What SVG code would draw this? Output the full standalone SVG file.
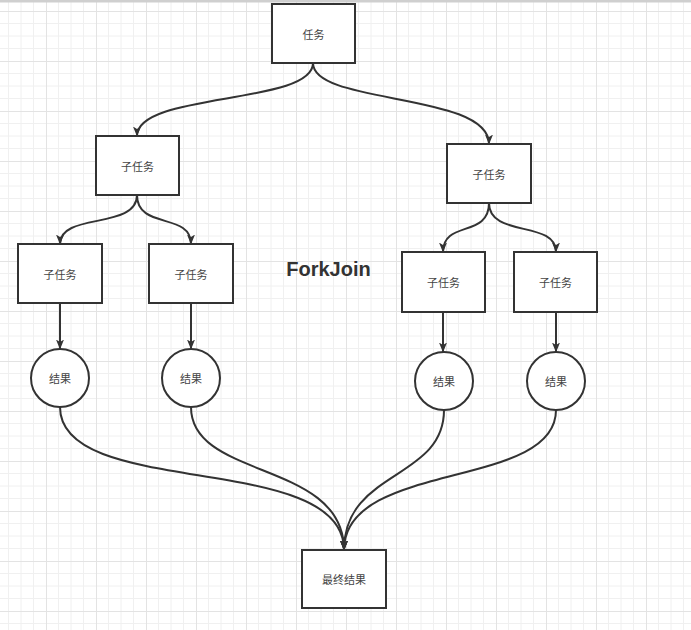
<svg xmlns="http://www.w3.org/2000/svg" width="691" height="630" viewBox="0 0 691 630">
<defs>
<pattern id="grid" patternUnits="userSpaceOnUse" x="46" y="11" width="50" height="50">
<path d="M12.5,0 V50 M25,0 V50 M37.5,0 V50 M0,12.5 H50 M0,25 H50 M0,37.5 H50" stroke="#f0f0f0" stroke-width="1" fill="none"/>
<path d="M0.5,0 V50 M0,0.5 H50" stroke="#e3e3e3" stroke-width="1" fill="none"/>
</pattern>
<marker id="arr" viewBox="0 0 10 8" refX="9.5" refY="4" markerWidth="10" markerHeight="8" markerUnits="userSpaceOnUse" orient="auto">
<path d="M0,0 L10,4 L0,8 L2.5,4 Z" fill="#333"/>
</marker>
<style>
.box{fill:#fff;stroke:#333;stroke-width:2}
.lbl{font-family:"Noto Sans CJK SC","Noto Sans",sans-serif;font-size:11px;fill:#444;text-anchor:middle;dominant-baseline:central}
.edge{fill:none;stroke:#333;stroke-width:2;marker-end:url(#arr)}
</style>
</defs>
<rect width="691" height="630" fill="#fff"/>
<rect width="691" height="630" fill="url(#grid)"/>
<rect x="0" y="0" width="691" height="2.5" fill="#cfcfcf"/>

<g id="connectors">
<path class="edge" d="M313,63 C313,105 137,92 137,136"/>
<path class="edge" d="M313,63 C313,105 489,92 489,144"/>
<path class="edge" d="M137,195 C137,230 60,212 60,244"/>
<path class="edge" d="M137,195 C137,230 191,212 191,244"/>
<path class="edge" d="M489,203 C489,238 443,220 443,252"/>
<path class="edge" d="M489,203 C489,238 556,220 556,252"/>
<path class="edge" d="M60,303 L60,349"/>
<path class="edge" d="M191,303 L191,349"/>
<path class="edge" d="M443,312 L443,352"/>
<path class="edge" d="M556,312 L556,352"/>
<path class="edge" d="M60,407 C60,500 344,450 344,550"/>
<path class="edge" d="M191,407 C191,480 344,460 344,550"/>
<path class="edge" d="M444,410 C444,480 344,470 344,550"/>
<path class="edge" d="M556,410 C556,490 344,460 344,550"/>
</g>

<g id="task"><rect class="box" x="272" y="4" width="83" height="59"/><text class="lbl" x="313.5" y="33.5">任务</text></g>
<g id="sub-left"><rect class="box" x="96" y="136" width="83" height="59"/><text class="lbl" x="137.5" y="165.5">子任务</text></g>
<g id="sub-right"><rect class="box" x="447" y="144" width="84" height="59"/><text class="lbl" x="489" y="173.5">子任务</text></g>
<g id="sub-a"><rect class="box" x="18" y="244" width="84" height="59"/><text class="lbl" x="60" y="273.5">子任务</text></g>
<g id="sub-b"><rect class="box" x="149" y="244" width="84" height="59"/><text class="lbl" x="191" y="273.5">子任务</text></g>
<g id="sub-c"><rect class="box" x="402" y="252" width="83" height="60"/><text class="lbl" x="443.5" y="282">子任务</text></g>
<g id="sub-d"><rect class="box" x="514" y="252" width="83" height="60"/><text class="lbl" x="555.5" y="282">子任务</text></g>
<g id="res-a"><circle class="box" cx="60" cy="378" r="29"/><text class="lbl" x="60" y="378">结果</text></g>
<g id="res-b"><circle class="box" cx="191" cy="378" r="29"/><text class="lbl" x="191" y="378">结果</text></g>
<g id="res-c"><circle class="box" cx="444" cy="381" r="29"/><text class="lbl" x="444" y="381">结果</text></g>
<g id="res-d"><circle class="box" cx="556" cy="381" r="29"/><text class="lbl" x="556" y="381">结果</text></g>
<g id="final"><rect class="box" x="302" y="550" width="84" height="58"/><text class="lbl" x="344" y="579">最终结果</text></g>
<g id="title"><text x="328.5" y="276" font-family="Liberation Sans, Arial, sans-serif" font-weight="bold" font-size="20" fill="#333" text-anchor="middle">ForkJoin</text></g>
</svg>
